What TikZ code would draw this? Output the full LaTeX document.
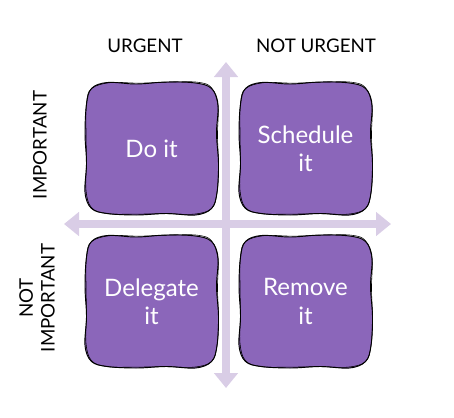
\documentclass[tikz,border=0pt]{standalone}
\usepackage{fontspec}
\setmainfont{Lato}
\usepackage{xcolor}
\usepackage{tikz}
\usetikzlibrary{arrows.meta}
\definecolor{boxpurple}{HTML}{8B66BA}
\definecolor{axislilac}{HTML}{D9CDE6}
\tikzset{
	task node/.style={text=white,align=center,font=\fontsize{20.5}{24}\selectfont},
	blob/.style={fill=boxpurple,draw=black,line width=0.8pt},
	axis label/.style={font=\fontsize{16}{18.5}\selectfont,align=center},
	axis/.style={line width=0.24cm,draw=axislilac,{Triangle[width=0.7cm,length=0.45cm,fill=axislilac]}-{Triangle[width=0.7cm,length=0.45cm,fill=axislilac]}}
}
% hand drawn square round a centre
\newcommand{\wobblybox}[1]{%
  \draw[blob,shift={(#1)}] plot[smooth cycle,tension=0.6] coordinates {
    (-44,-66) (-15,-64.5) (15,-66.5) (44,-65.5) (60,-60)
    (66.5,-44) (65,-15) (67,15) (65.5,44) (60,60)
    (44,66.5) (15,65) (-15,66.5) (-44,65) (-60,60)
    (-66.5,44) (-65,15) (-66.5,-15) (-65,-44) (-60,-60)};
  \draw[line width=0.5pt,shift={(#1)},xshift=0.4pt,yshift=0.3pt] plot[smooth cycle,tension=0.6] coordinates {
    (-42,-65.5) (-13,-65) (17,-66) (45,-66) (59.5,-60.5)
    (66,-42) (65.5,-13) (66.5,17) (65,45) (59.5,60.5)
    (42,66) (13,65.5) (-17,66) (-45,65.5) (-60.5,59.5)
    (-66,42) (-65.5,13) (-66,-17) (-65.5,-45) (-60.5,-59.5)};
}

\begin{document}
\begin{tikzpicture}[x=0.03cm,y=-0.03cm]
      \useasboundingbox (0,0) rectangle (454,417);
      \coordinate (top) at (226,62);
      \coordinate (bot) at (226,388);
      \coordinate (left) at (64,224);
      \coordinate (right) at (391,224);

      \draw[axis] (top) -- (bot);
      \draw[axis] (left) -- (right);

      \coordinate (c1) at (151.5,148.5);
      \coordinate (c2) at (305.5,148.5);
      \coordinate (c3) at (151.5,301.5);
      \coordinate (c4) at (305.5,301.5);
      \foreach \c in {c1,c2,c3,c4}
        \wobblybox{\c};

      \node[task node] (do) at (c1) {Do it};
      \node[task node] (sched) at (c2) {Schedule\\it};
      \node[task node] (deleg) at (c3) {Delegate\\it};
      \node[task node] (remove) at (c4) {Remove\\it};

      \node[axis label] (urg) at (145,46) {URGENT};
      \node[axis label] (noturg) at (316,46) {NOT URGENT};
      \node[axis label,rotate=90] (imp) at (40,145) {IMPORTANT};
      \node[axis label,rotate=90] (notimp) at (37,298) {NOT\\IMPORTANT};
\end{tikzpicture}
\end{document}
